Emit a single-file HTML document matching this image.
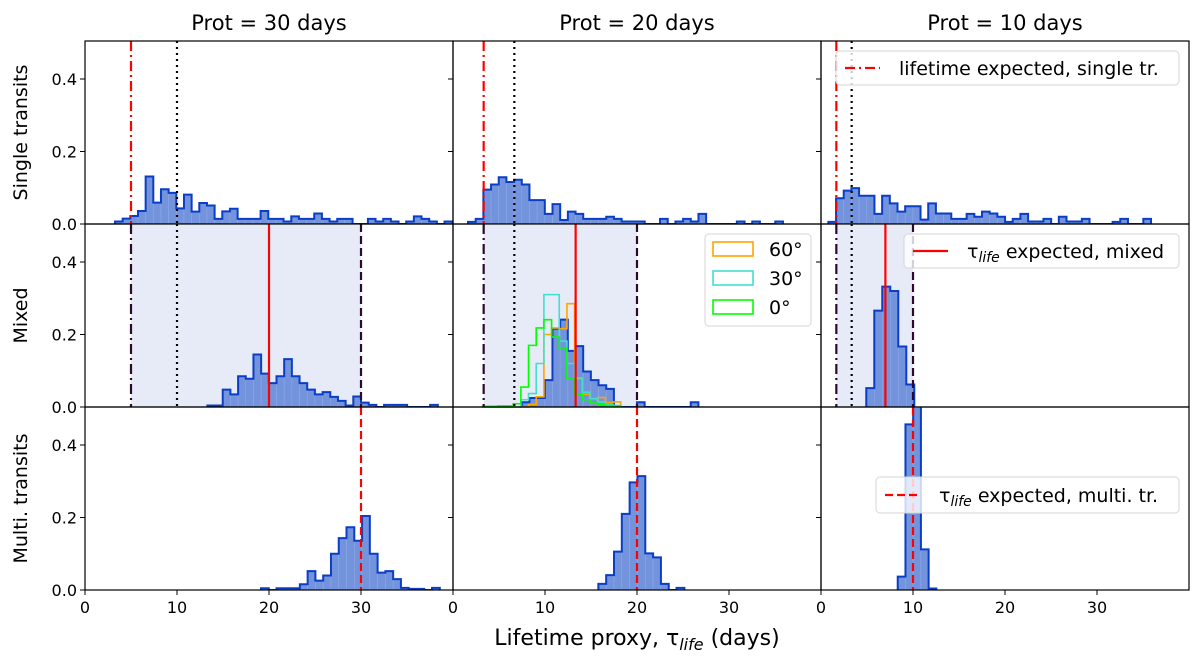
<!DOCTYPE html>
<html><head><meta charset="utf-8"><style>
body{margin:0;background:#fff;}
svg{display:block;font-family:"DejaVu Sans","Liberation Sans",sans-serif;}
</style></head><body>
<svg id="fig" width="1200" height="668" viewBox="0 0 1200 668" xmlns="http://www.w3.org/2000/svg"></svg>
<script>
// ---- data ----
const colTitles = ["Prot = 30 days","Prot = 20 days","Prot = 10 days"];
const rowLabels = ["Single transits","Mixed","Multi. transits"];
const xTicks = [0,10,20,30];
const yTicks = [0.0,0.2,0.4];
const prots = [30,20,10];
const mixedExpected = [20,13.33,7];
// histogram bin starts and widths (days) per [row][col]
const binStart = [[3.26,1.63,0.8],[13.3,7.47,4.92],[19.13,15.8,8.34]];
const binWidth = [[0.833,0.835,0.835],[0.835,0.835,0.87],[0.845,0.85,0.84]];
const h_s30 = [0.007,0.015,0.022,0.036,0.131,0.059,0.096,0.086,0.043,0.081,0.034,0.058,0.051,0.014,0.035,0.042,0.014,0.014,0.014,0.036,0.014,0.014,0.007,0.021,0.014,0.014,0.029,0.014,0.007,0.014,0.014,0,0,0.014,0.007,0.014,0.007,0,0.007,0.021,0.014,0.007,0,0.007];
const h_s20 = [0.006,0.014,0.095,0.109,0.129,0.116,0.122,0.109,0.066,0.066,0.028,0.055,0.011,0.034,0.028,0.014,0.014,0.014,0.02,0.014,0.007,0.007,0.007,0,0,0.014,0,0.007,0.014,0.007,0.028,0,0,0,0,0.007,0,0.007,0,0,0.007];
const h_s10 = [0.006,0.071,0.092,0.099,0.078,0.078,0.028,0.078,0.057,0.034,0.049,0.049,0.012,0.057,0.029,0.029,0.014,0.014,0.028,0.02,0.034,0.029,0.02,0.006,0.014,0.028,0.007,0.007,0.014,0,0.02,0.007,0.007,0.014,0,0,0,0.006,0.014,0,0,0.014];
const h_m30 = [0.004,0.004,0.048,0.035,0.085,0.078,0.145,0.092,0.066,0.085,0.132,0.085,0.066,0.048,0.035,0.041,0.028,0.017,0.004,0.029,0.012,0.006,0,0.006,0.006,0.006,0,0,0,0.006];
const h_m20 = [0.013,0.025,0.025,0.074,0.216,0.241,0.155,0.168,0.098,0.074,0.06,0.05,0,0,0,0.013,0,0,0,0,0,0,0.013];
const h_m10 = [0.052,0.266,0.332,0.32,0.167,0.062];
const h_t30 = [0.005,0,0.005,0.005,0.005,0.016,0.052,0.026,0.04,0.1,0.143,0.173,0.136,0.204,0.1,0.048,0.052,0.03,0.006,0.003,0.003,0,0.006];
const h_t20 = [0.017,0.041,0.106,0.21,0.297,0.314,0.101,0.09,0.017,0,0.006];
const h_t10 = [0.037,0.457,0.52,0.112,0.004];
const hists = [[h_s30,h_s20,h_s10],[h_m30,h_m20,h_m10],[h_t30,h_t20,h_t10]];
// inclination histograms (Prot=20, mixed)
const incStart = 3.2;
const h_i60 = [0,0,0,0,0,0,0.007,0.028,0.2,0.218,0.216,0.285,0.078,0.035,0.01,0.026,0.012,0.014];
const h_i30 = [0,0,0,0,0,0.02,0.037,0.12,0.31,0.31,0.182,0.12,0.08,0.041,0.023,0.014,0.006,0.004];
const h_i0 = [0.002,0.002,0.003,0.003,0.009,0.055,0.17,0.218,0.241,0.193,0.163,0.077,0.034,0.02,0.011,0.007,0.004,0.003];
const incLabels = ["60°","30°","0°"];
const incColors = ["#ffa500","#40e0d0","#00ff00"];

// ---- layout ----
const NS="http://www.w3.org/2000/svg";
const svg=document.getElementById('fig');
const colX=[85,453,821], W=368, rowY=[41,224,407], H=183, PX=9.2, PY=362.5;
function el(tag,attrs,parent){const e=document.createElementNS(NS,tag);for(const k in attrs)e.setAttribute(k,attrs[k]);(parent||svg).appendChild(e);return e;}
const sx=(c,d)=>colX[c]+d*PX;
const sy=(r,v)=>rowY[r]+H-v*PY;
const defs=el('defs',{});
for(let r=0;r<3;r++)for(let c=0;c<3;c++){const cp=el('clipPath',{id:`clip${r}${c}`},defs);el('rect',{x:colX[c],y:rowY[r],width:W,height:H},cp);}

function vline(r,c,d,color,dash,name,w){
  const l=el('line',{x1:sx(c,d),x2:sx(c,d),y1:rowY[r],y2:rowY[r]+H,stroke:color,'stroke-width':w||2.2,'stroke-dasharray':dash,'clip-path':`url(#clip${r}${c})`});
  
  
}
function stepPath(r,c,start,w,vals){
  let d=`M${sx(c,start)},${sy(r,0)}`;
  vals.forEach((v,i)=>{d+=` L${sx(c,start+i*w)},${sy(r,v)} L${sx(c,start+(i+1)*w)},${sy(r,v)}`;});
  d+=` L${sx(c,start+vals.length*w)},${sy(r,0)}`;return d;
}
const DD="#2b0a2e";
for(let r=0;r<3;r++)for(let c=0;c<3;c++){
  const P=prots[c];
  const g=el('g',{});
  
  
  if(r===1){
    const sp=el('rect',{x:sx(c,P/6),y:rowY[r],width:(P-P/6)*PX,height:H,fill:'#e6ebf7'});
    
    
  }
  const st=binStart[r][c], bw=binWidth[r][c];
  hists[r][c].forEach((v,i)=>{
    if(v<=0)return;
    const b=el('rect',{x:sx(c,st+i*bw),y:sy(r,v),width:bw*PX,height:v*PY,fill:'#7393dc',stroke:'#8ea8e6','stroke-width':0.6,'clip-path':`url(#clip${r}${c})`});
    
    
  });
  const o=el('path',{d:stepPath(r,c,st,bw,hists[r][c]),fill:'none',stroke:'#0a3ec6','stroke-width':2,'clip-path':`url(#clip${r}${c})`});
  
  
  if(r===1&&c===1){
    [h_i60,h_i30,h_i0].forEach((arr,k)=>{
      const p=el('path',{d:stepPath(r,c,incStart,0.835,arr),fill:'none',stroke:incColors[k],'stroke-width':1.6});
      
      
    });
  }
  if(r===0){
    vline(r,c,P/6,'#ff0000','10 4 2 4','single-expected-line');
    vline(r,c,P/3,'#000','2 4','third-period-line');
  } else if(r===1){
    vline(r,c,P/6,DD,'10 4 2 4','lower-bound-line');
    vline(r,c,P/3,'#000','2 4','third-period-line');
    vline(r,c,mixedExpected[c],'#ff0000','','mixed-expected-line');
    vline(r,c,P,DD,'8 4','upper-bound-line');
  } else {
    vline(r,c,P,'#ff0000','8 4','multi-expected-line');
  }
  el('rect',{x:colX[c],y:rowY[r],width:W,height:H,fill:'none',stroke:'#000','stroke-width':1.2});
  yTicks.forEach(t=>{
    el('line',{x1:colX[c]-5,x2:colX[c],y1:sy(r,t),y2:sy(r,t),stroke:'#000','stroke-width':1});
    if(c===0){const tx=el('text',{x:colX[c]-8,y:sy(r,t)+6,'text-anchor':'end','font-size':16});tx.textContent=t.toFixed(1);
      }
  });
  if(r===2){
    xTicks.forEach(t=>{
      el('line',{x1:sx(c,t),x2:sx(c,t),y1:rowY[r]+H,y2:rowY[r]+H+5,stroke:'#000','stroke-width':1});
      const tx=el('text',{x:sx(c,t),y:rowY[r]+H+23,'text-anchor':'middle','font-size':16});tx.textContent=t;
      
    });
  }
}
colTitles.forEach((t,c)=>{const tx=el('text',{x:colX[c]+W/2,y:30,'text-anchor':'middle','font-size':21});tx.textContent=t;
  });
rowLabels.forEach((t,r)=>{const cy=rowY[r]+H/2;const tx=el('text',{x:27,y:cy,'text-anchor':'middle','font-size':19,transform:`rotate(-90 27 ${cy})`});tx.textContent=t;
  });
const xl=el('text',{x:637,y:645,'text-anchor':'middle','font-size':22});
xl.innerHTML='Lifetime proxy, τ<tspan font-style="italic" font-size="16" dy="5">life</tspan><tspan dy="-5"> (days)</tspan>';


function legend(x,y,w,h,dash,name,html){
  const g=el('g',{});
  
  
  el('rect',{x,y,width:w,height:h,rx:4,fill:'rgba(255,255,255,0.8)',stroke:'#d6d6d6'},g);
  el('line',{x1:x+9,x2:x+44,y1:y+h/2,y2:y+h/2,stroke:'#ff0000','stroke-width':2.2,'stroke-dasharray':dash},g);
  const t=el('text',{x:x+63,y:y+h/2+7,'font-size':19},g);t.innerHTML=html;
}
legend(836,51,343,34,'10 4 2 4','legend-single','lifetime expected, single tr.');
legend(904,234,275,34,'','legend-mixed','τ<tspan font-style="italic" font-size="14" dy="4">life</tspan><tspan dy="-4"> expected, mixed</tspan>');
legend(876,477,303,36,'8 4','legend-multi','τ<tspan font-style="italic" font-size="14" dy="4">life</tspan><tspan dy="-4"> expected, multi. tr.</tspan>');
const ig=el('g',{});


el('rect',{x:705,y:234,width:106,height:92,rx:4,fill:'rgba(255,255,255,0.85)',stroke:'#d6d6d6'},ig);
incLabels.forEach((t,k)=>{const yy=242+k*29;
  el('rect',{x:713,y:yy,width:40,height:14,fill:'none',stroke:incColors[k],'stroke-width':1.6},ig);
  const tx=el('text',{x:769,y:yy+14,'font-size':19},ig);tx.textContent=t;});
</script>
</body></html>
